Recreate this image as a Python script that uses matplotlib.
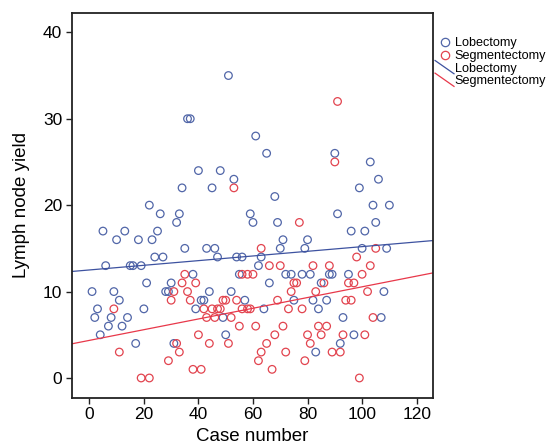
import matplotlib
matplotlib.use('Agg')
import matplotlib.pyplot as plt
from matplotlib.lines import Line2D
from matplotlib.legend_handler import HandlerBase

plt.rcParams['font.family'] = ['Liberation Sans', 'DejaVu Sans']

# Lobectomy cases (case number, lymph nodes)
lob_case = [51, 36, 37, 61, 40, 48, 53, 34, 45, 22, 26, 33, 32, 59, 60, 5, 13, 25,
            65, 90, 103, 106, 99, 68, 104, 110, 91, 69, 105, 96, 101,
            10, 18, 23, 71, 80,
            35, 43, 46, 70, 79, 100, 109,
            24, 27, 47, 54, 56, 63,
            6, 15, 16, 19, 62,
            38, 55, 72, 74, 78, 81, 88, 89, 95,
            21, 30, 66, 85,
            1, 9, 28, 29, 44, 52, 108,
            11, 41, 42, 57, 75, 82, 87,
            3, 20, 39, 64, 84,
            2, 8, 14, 49, 93, 107,
            7, 12,
            4, 50, 97,
            17, 31, 92,
            83]
lob_nodes = [35, 30, 30, 28, 24, 24, 23, 22, 22, 20, 19, 19, 18, 19, 18, 17, 17, 17,
             26, 26, 25, 23, 22, 21, 20, 20, 19, 18, 18, 17, 17,
             16, 16, 16, 16, 16,
             15, 15, 15, 15, 15, 15, 15,
             14, 14, 14, 14, 14, 14,
             13, 13, 13, 13, 13,
             12, 12, 12, 12, 12, 12, 12, 12, 12,
             11, 11, 11, 11,
             10, 10, 10, 10, 10, 10, 10,
             9, 9, 9, 9, 9, 9, 9,
             8, 8, 8, 8, 8,
             7, 7, 7, 7, 7, 7,
             6, 6,
             5, 5, 5,
             4, 4, 4,
             3]

# Segmentectomy cases
seg_case = [91, 90, 53, 77,
            63, 105,
            98,
            66, 70, 82, 88, 103,
            35, 56, 58, 60, 100,
            34, 39, 75, 76, 86, 95, 97,
            31, 36, 74, 83, 102,
            30, 37, 49, 50, 54, 69, 94, 96,
            9, 42, 45, 47, 48, 56, 58, 59, 73, 78,
            43, 46, 52, 104,
            55, 61, 71, 84, 87,
            40, 68, 80, 85, 93, 101,
            44, 51, 32, 65, 81,
            11, 33, 63, 72, 89, 92,
            29, 62, 79,
            38, 41, 67,
            19, 22, 99]
seg_nodes = [32, 25, 22, 18,
             15, 15,
             14,
             13, 13, 13, 13, 13,
             12, 12, 12, 12, 12,
             11, 11, 11, 11, 11, 11, 11,
             10, 10, 10, 10, 10,
             9, 9, 9, 9, 9, 9, 9, 9,
             8, 8, 8, 8, 8, 8, 8, 8, 8, 8,
             7, 7, 7, 7,
             6, 6, 6, 6, 6,
             5, 5, 5, 5, 5, 5,
             4, 4, 4, 4, 4,
             3, 3, 3, 3, 3, 3,
             2, 2, 2,
             1, 1, 1,
             0, 0, 0]

# linear fits (intercept, slope)
lob_fit = (12.5, 0.027)
seg_fit = (4.35, 0.062)

blue = '#5166a8'
red = '#e2444f'


class DiagonalLine(HandlerBase):
    # legend line drawn as a short diagonal stroke
    def create_artists(self, legend, orig_handle, xdescent, ydescent,
                       width, height, fontsize, trans):
        line = Line2D([-xdescent, -xdescent + width],
                      [-ydescent + height * 1.25, -ydescent - height * 0.25],
                      color=orig_handle.get_color(), lw=orig_handle.get_linewidth())
        line.set_transform(trans)
        return [line]


fig = plt.figure(figsize=(5.5, 4.44), dpi=100)
ax = fig.add_axes([0.1309, 0.1043, 0.6564, 0.8671])

ax.scatter(lob_case, lob_nodes, s=30, facecolors='none', edgecolors=blue,
           linewidths=0.9, label='Lobectomy')
ax.scatter(seg_case, seg_nodes, s=30, facecolors='none', edgecolors=red,
           linewidths=0.9, label='Segmentectomy')

l1 = ax.axline((0, lob_fit[0]), slope=lob_fit[1], color='#3d52a0', lw=0.9)
l2 = ax.axline((0, seg_fit[0]), slope=seg_fit[1], color='#e8384a', lw=0.9)

ax.set_xlim(-6.35, 126)
ax.set_ylim(-2.28, 42.27)
ax.set_xticks([0, 20, 40, 60, 80, 100, 120])
ax.set_yticks([0, 10, 20, 30, 40])
ax.tick_params(labelsize=12.5, length=4, width=1, color='#222222', pad=3)
for sp in ax.spines.values():
    sp.set_linewidth(1.3)
    sp.set_color('#222222')

ax.set_xlabel('Case number', fontsize=13.5, labelpad=4)
ax.set_ylabel('Lymph node yield', fontsize=13.5, labelpad=9)

handles = [Line2D([], [], ls='none', marker='o', mfc='none', mec=blue, ms=6, mew=0.9),
           Line2D([], [], ls='none', marker='o', mfc='none', mec=red, ms=6, mew=0.9),
           l1, l2]
labels = ['Lobectomy', 'Segmentectomy', 'Lobectomy', 'Segmentectomy']
fig.legend(handles, labels, loc='upper left', bbox_to_anchor=(0.791, 0.916),
           frameon=False, fontsize=9.1, handlelength=1.5, handletextpad=0.05,
           labelspacing=0.05, borderaxespad=0, borderpad=0,
           handler_map={l1: DiagonalLine(), l2: DiagonalLine()})

fig.savefig('out.png', dpi=100)
